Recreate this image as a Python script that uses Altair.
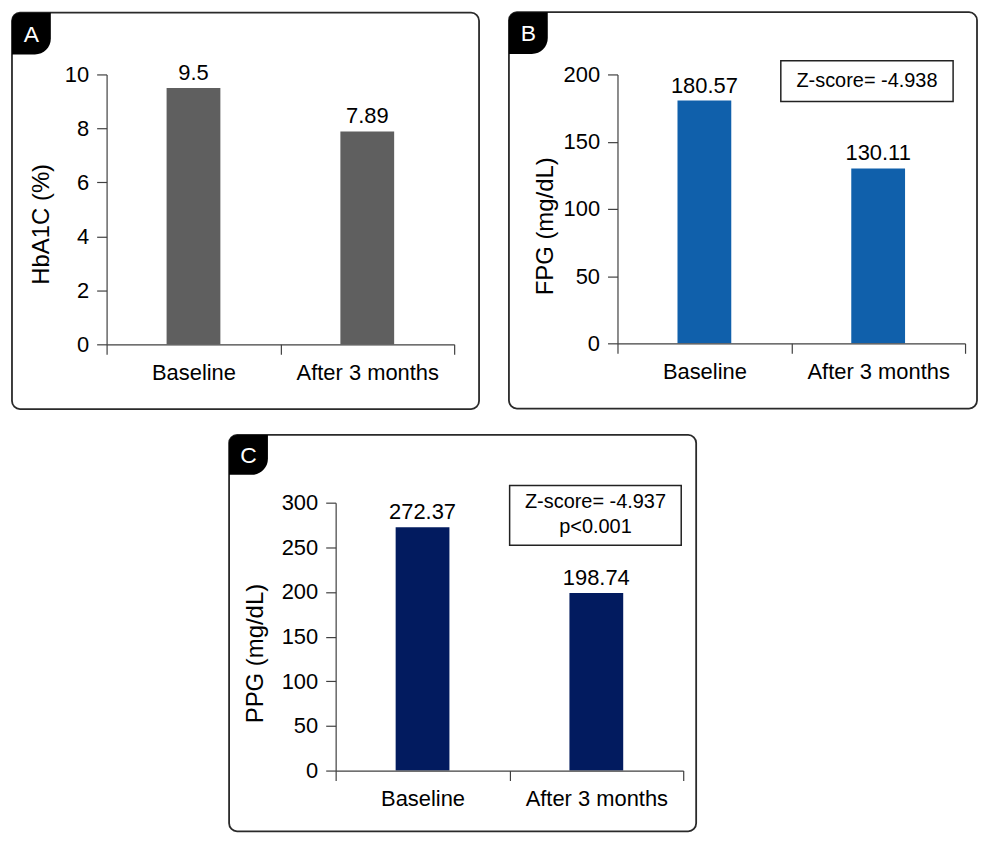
import altair as alt
import pandas as pd

categories = ["Baseline", "After 3 months"]
hba1c = [9.5, 7.89]
fpg = [180.57, 130.11]
ppg = [272.37, 198.74]
hba1c_labels = ["9.5", "7.89"]
fpg_labels = ["180.57", "130.11"]
ppg_labels = ["272.37", "198.74"]
panel_letters = ["A", "B", "C"]
y_titles = ["HbA1C (%)", "FPG (mg/dL)", "PPG (mg/dL)"]
y_ticks_a = [0, 2, 4, 6, 8, 10]
y_ticks_b = [0, 50, 100, 150, 200]
y_ticks_c = [0, 50, 100, 150, 200, 250, 300]
zbox_b = ["Z-score= -4.938"]
zbox_c = ["Z-score= -4.937", "p<0.001"]
colors = ["#5f5f5f", "#1060ab", "#021b5f"]

FONT = "Liberation Sans"
W = 349
AXC = "#404040"


def panel(values, labels, letter, ytitle, ticks, ymax, color, h, frame, tab, title_xy):
    df = pd.DataFrame({"cat": categories, "val": values, "lab": labels})
    base = alt.Chart(df)
    one = alt.Chart(pd.DataFrame({"k": [0]}))
    fl, fr, ft, fb = frame
    frame_l = one.mark_rect(fill="white", fillOpacity=0, stroke="#2a2a2a", strokeWidth=1.8,
                            cornerRadius=8).encode(
        x=alt.value(fl), x2=alt.value(fr), y=alt.value(ft), y2=alt.value(fb))
    tab_l = one.mark_rect(fill="black", cornerRadiusTopLeft=8, cornerRadiusBottomRight=16).encode(
        x=alt.value(fl), x2=alt.value(fl + 39), y=alt.value(ft), y2=alt.value(ft + tab))
    letter_l = one.mark_text(text=letter, color="white", fontSize=23, font=FONT,
                             baseline="middle", align="center").encode(
        x=alt.value(fl + 19.5), y=alt.value(ft + tab / 2 + 1))
    x = alt.X("cat:N", sort=categories,
              scale=alt.Scale(paddingInner=0, paddingOuter=0),
              axis=alt.Axis(title=None, labelAngle=0, tickBand="extent",
                            labelBaseline="alphabetic", labelPadding=25,
                            tickSize=10, labelFontSize=22, labelFont=FONT,
                            labelColor="black", domainColor=AXC, tickColor=AXC,
                            domainWidth=1.2, tickWidth=1.2, zindex=1))
    y = alt.Y("val:Q", scale=alt.Scale(domain=[0, ymax], nice=False),
              axis=alt.Axis(values=ticks, title=ytitle, grid=False, tickSize=10,
                            labelPadding=8, labelFontSize=22, labelFont=FONT,
                            labelColor="black", titleFontSize=24, titleFont=FONT,
                            titleFontWeight="normal", titleColor="black",
                            titleX=title_xy[0], titleY=title_xy[1], titleAngle=-90,
                            titleAlign="center", titleBaseline="middle",
                            domainColor=AXC, tickColor=AXC, domainWidth=1.2, tickWidth=1.2,
                            zindex=1))
    bars = base.mark_bar(size=54, color=color).encode(x=x, y=y)
    txt = base.mark_text(dy=-8, baseline="alphabetic", fontSize=22, font=FONT,
                         color="black").encode(x=x, y=y, text="lab:N")
    return frame_l, tab_l, letter_l, bars, txt, one


# Panel A
fa, ta, la, ba, xa, _ = panel(hba1c, hba1c_labels, panel_letters[0], y_titles[0],
                              y_ticks_a, 10, colors[0], 271, (-95, 374, -62, 336), 42, (-65, 150))
chart_a = alt.layer(fa, ba, xa, ta, la).properties(width=W, height=271)

# Panel B
fb_, tb, lb, bb, xb, oneb = panel(fpg, fpg_labels, panel_letters[1], y_titles[1],
                                  y_ticks_b, 200, colors[1], 270, (-109, 361, -62.5, 335.5), 42, (-72, 152))
zb_rect = oneb.mark_rect(fill="white", stroke="#222222", strokeWidth=1.5).encode(
    x=alt.value(164), x2=alt.value(337), y=alt.value(-13.8), y2=alt.value(27.2))
zb_text = oneb.mark_text(text=zbox_b[0], fontSize=20, font=FONT, color="black",
                         baseline="middle", align="center").encode(
    x=alt.value(250.5), y=alt.value(7))
chart_b = alt.layer(fb_, bb, xb, zb_rect, zb_text, tb, lb).properties(width=W, height=270)

# Panel C
fc, tc, lc, bc, xc, onec = panel(ppg, ppg_labels, panel_letters[2], y_titles[2],
                                 y_ticks_c, 300, colors[2], 269, (-107, 362, -68, 330), 40, (-80, 151))
zc_rect = onec.mark_rect(fill="white", stroke="#222222", strokeWidth=1.5).encode(
    x=alt.value(174.7), x2=alt.value(347), y=alt.value(-17.3), y2=alt.value(42.7))
zc_text1 = onec.mark_text(text=zbox_c[0], fontSize=20, font=FONT, color="black",
                          baseline="middle", align="center").encode(
    x=alt.value(260.9), y=alt.value(-0.5))
zc_text2 = onec.mark_text(text=zbox_c[1], fontSize=20, font=FONT, color="black",
                          baseline="middle", align="center").encode(
    x=alt.value(260.9), y=alt.value(24))
chart_c = alt.layer(fc, bc, xc, zc_rect, zc_text1, zc_text2, tc, lc).properties(width=W, height=269)

spacer = alt.Chart(pd.DataFrame({"k": [0]})).mark_point(opacity=0, size=1).encode(
    x=alt.value(0), y=alt.value(0)).properties(width=122, height=10)

top = alt.hconcat(chart_a, chart_b, spacing=28)
bottom = alt.hconcat(spacer, chart_c, spacing=0)
chart = alt.vconcat(top, bottom, spacing=24).properties(
    padding={"left": 3, "top": 1, "right": 0, "bottom": 5}
).configure_view(stroke=None)

chart.save("out.html", embed_options={"renderer": "svg", "actions": False})
